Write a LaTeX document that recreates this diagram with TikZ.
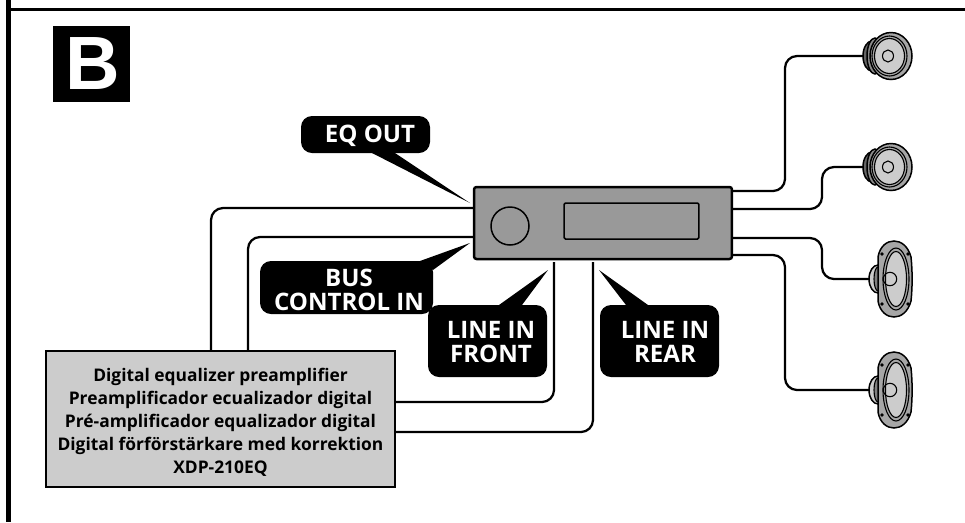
\documentclass[tikz,border=0pt]{standalone}
\usepackage{fontspec}
\setmainfont{Open Sans}
\newfontfamily\capfont{Liberation Sans}
\def\tweeter(#1,#2){
	\begin{scope}[shift={(#1,#2)}]
		\draw[part, fill=black!60] (-16,0) ellipse (9 and 15);
		\draw[part, fill=black!45] (-13,0) ellipse (8 and 18);
		\draw[part, fill=black!35] (3,0) ellipse (21 and 23.5);
		\draw[thinpart] (1.5,0) ellipse (17.5 and 20);
		\draw[thinpart, fill=black!20] (1.5,0) ellipse (15 and 17.5);
		\draw[thinpart] (0,0) ellipse (5.5 and 6);
	\end{scope}
}
\def\ovalspeaker(#1,#2){
	\begin{scope}[shift={(#1,#2)}]
		\draw[part, fill=black!20] (-15,0) ellipse (9 and 14);
		\draw[thinpart, fill=black!50] (-15,0) ellipse (4 and 12);
		\draw[part, fill=black!35] (-15,-22) .. controls (-13,-33) and (-6,-38) .. (1,-38)
			.. controls (8,-38) and (15,-33) .. (18,-22)
			.. controls (19.5,-8) and (19.5,8) .. (18,22)
			.. controls (15,33) and (8,38) .. (1,38)
			.. controls (-6,38) and (-13,33) .. (-15,22) -- cycle;
		\draw[thinpart] (3,0) ellipse (13 and 31);
		\draw[thinpart, fill=black!20] (3,0) ellipse (10.5 and 27.5);
		\draw[thinpart] (-3,0) circle (6.7);
		\foreach \holex in {-11,15}
			\foreach \holey in {-25,25}
				\draw[thinpart, fill=white] (\holex,\holey) circle (1.2);
	\end{scope}
}
\tikzset{
	part/.style={line width=0.03cm, draw=black},
	thinpart/.style={line width=0.022cm, draw=black},
	cable/.style={line width=0.045cm, rounded corners=0.24cm},
	bubble/.style={fill=black, rounded corners=0.22cm},
	bubbletext/.style={text=white, align=center, inner sep=0pt, font=\fontsize{13.7}{13.7}\selectfont\bfseries},
}
\begin{document}
\begin{tikzpicture}[x=0.02cm, y=-0.02cm]
	\useasboundingbox (0,0) rectangle (965,522);

	%%%%% FRAME %%%%%
	\fill[black] (6,0) rectangle (10.5,522);
	\fill[black] (10,8) rectangle (965,10.5);

	\fill[black] (53,25.5) rectangle (130,102);
	\node[text=white, inner sep=0pt, font=\fontsize{43}{43}\selectfont\capfont\bfseries] (letter) at (93,64) {B};

	%%%%% UNITS %%%%%
	\node[draw, fill=black!40, line width=0.05cm, rounded corners=0.05cm, minimum width=5.16cm, minimum height=1.44cm, outer sep=0pt] (device) at (603,223) {};
	\node[draw, circle, line width=0.03cm, minimum size=0.76cm, inner sep=0pt] (knob) at (510,226) {};
	\node[draw, line width=0.03cm, rounded corners=0.03cm, minimum width=2.7cm, minimum height=0.72cm, inner sep=0pt] (display) at (631.5,221) {};

	\node[draw, fill=black!20, line width=0.05cm, minimum width=6.98cm, minimum height=2.72cm, align=center, outer sep=0pt, font=\fontsize{9.9}{13.1}\selectfont\bfseries] (prebox) at (220.5,419) {\rule{0pt}{11.8pt}Digital equalizer preamplifier\\Preamplificador ecualizador digital\\Pré-amplificador equalizador digital\\Digital förförstärkare med korrektion\\XDP-210EQ};

	\coordinate (eqport) at (473,208);
	\coordinate (busport) at (473,237);
	\coordinate (frontport) at (554,262);
	\coordinate (rearport) at (593,262);
	\coordinate (eqin) at (211,350);
	\coordinate (busout) at (248,350);
	\coordinate (frontout) at (396,402);
	\coordinate (rearout) at (396,432);
	\coordinate (outa) at (733,191);
	\coordinate (outb) at (733,209);
	\coordinate (outc) at (733,238);
	\coordinate (outd) at (733,255);
	\coordinate (spka) at (868,56);
	\coordinate (spkb) at (868,167);
	\coordinate (spkc) at (872,279);
	\coordinate (spkd) at (872,390);

	%%%%% CABLES %%%%%
	\draw[cable] (eqport) -| (eqin);
	\draw[cable] (busport) -| (busout);
	\draw[cable] (frontport) |- (frontout);
	\draw[cable] (rearport) |- (rearout);
	\draw[cable] (outa) -- (785,191) -- (785,56) -- (spka);
	\draw[cable] (outb) -- (822,209) -- (822,167) -- (spkb);
	\draw[cable] (outc) -- (822,238) -- (822,279) -- (spkc);
	\draw[cable] (outd) -- (785,255) -- (785,390) -- (spkd);

	\tweeter(888,56)
	\tweeter(888,167)
	\ovalspeaker(893,279)
	\ovalspeaker(893,390)

	%%%%% LABELS %%%%%
	\fill[bubble] (301,116) rectangle (430,153);
	\fill (372,153) -- (470,203) -- (395,153) -- cycle;
	\node[bubbletext] (eqout) at (370,136) {EQ OUT};

	\fill[bubble] (260,261) rectangle (433,314);
	\fill (420,261) -- (470,243) -- (433,270) -- cycle;
	\node[bubbletext] (buscontrol) at (349,290) {BUS\\CONTROL IN};

	\fill[bubble] (428,305) rectangle (547,377);
	\fill (499,305) -- (548,270) -- (522,305) -- cycle;
	\node[bubbletext] (linefront) at (491,342) {LINE IN\\FRONT};

	\fill[bubble] (600,305) rectangle (719,377);
	\fill (626,305) -- (599,270) -- (648,305) -- cycle;
	\node[bubbletext] (linerear) at (665,342) {LINE IN\\REAR};
\end{tikzpicture}
\end{document}
